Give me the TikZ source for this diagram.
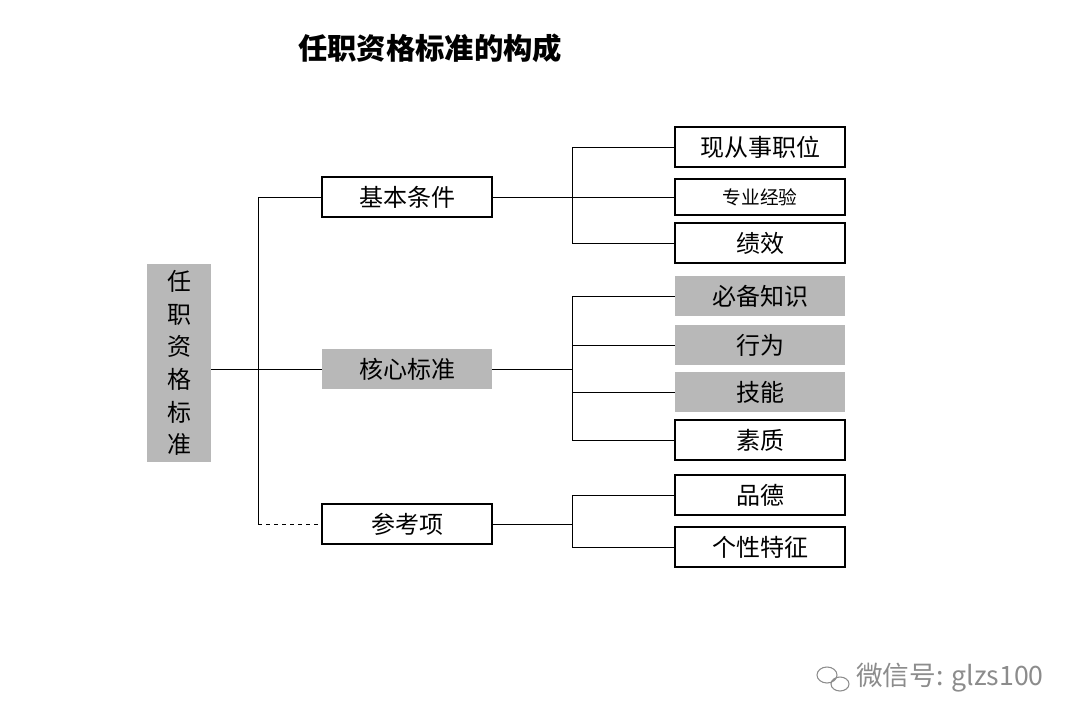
\documentclass[tikz,border=0pt]{standalone}
\usepackage{fontspec}
\setmainfont{Noto Sans CJK SC}
\tikzset{
  item box/.style={draw, thick, minimum width=127.5pt, minimum height=30pt, font=\fontsize{18}{20}\selectfont},
  key box/.style={fill=black!28, minimum width=127.5pt, minimum height=30pt, font=\fontsize{18}{20}\selectfont},
  link/.style={thin},
}
\begin{document}
\begin{tikzpicture}[x=0.75pt, y=-0.75pt]
      \useasboundingbox (0,0) rectangle (1079,728);
      \node[font=\fontsize{22}{26}\selectfont\bfseries] (title) at (430,48) {任职资格标准的构成};

      \node[fill=black!28, minimum width=48pt, minimum height=148pt, align=center,
            font=\fontsize{18}{24.5}\selectfont] (root) at (179,363) {任\\职\\资\\格\\标\\准};

      \node[item box] (basic) at (407,197) {基本条件};
      \node[key box]  (core)  at (407,369) {核心标准};
      \node[item box] (ref)   at (407,524) {参考项};

      \node[item box] (r1) at (760,147) {现从事职位};
      \node[item box, minimum height=27pt, font=\fontsize{14}{16}\selectfont] (r2) at (760,197) {专业经验};
      \node[item box] (r3) at (760,243) {绩效};
      \node[key box]  (r4) at (760,296) {必备知识};
      \node[key box]  (r5) at (760,345) {行为};
      \node[key box]  (r6) at (760,392) {技能};
      \node[item box] (r7) at (760,440) {素质};
      \node[item box] (r8) at (760,495) {品德};
      \node[item box] (r9) at (760,547) {个性特征};

      \coordinate (trunk) at (258,0);
      \coordinate (fork)  at (572,0);

      \draw[link] (root.east |- core) -- (trunk |- core);
      \draw[link] (basic.west) -- (trunk |- basic) -- (trunk |- ref);
      \draw[link, dashed] (trunk |- ref) -- (ref.west);
      \draw[link] (core.west) -- (trunk |- core);

      \draw[link] (basic.east) -- (fork |- basic);
      \draw[link] (fork |- r1) -- (fork |- r3);
      \foreach \n in {r1,r2,r3} \draw[link] (fork |- \n) -- (\n.west);

      \draw[link] (core.east) -- (fork |- core);
      \draw[link] (fork |- r4) -- (fork |- r7);
      \foreach \n in {r4,r5,r6,r7} \draw[link] (fork |- \n) -- (\n.west);

      \draw[link] (ref.east) -- (fork |- ref);
      \draw[link] (fork |- r8) -- (fork |- r9);
      \foreach \n in {r8,r9} \draw[link] (fork |- \n) -- (\n.west);

      \node[text=black!45, font=\fontsize{20}{24}\selectfont] (mark) at (950,678) {微信号: glzs100};
      \draw[black!45, thick] (827,675) circle[x radius=10, y radius=8] (840,684) circle[x radius=9, y radius=7];
\end{tikzpicture}
\end{document}
